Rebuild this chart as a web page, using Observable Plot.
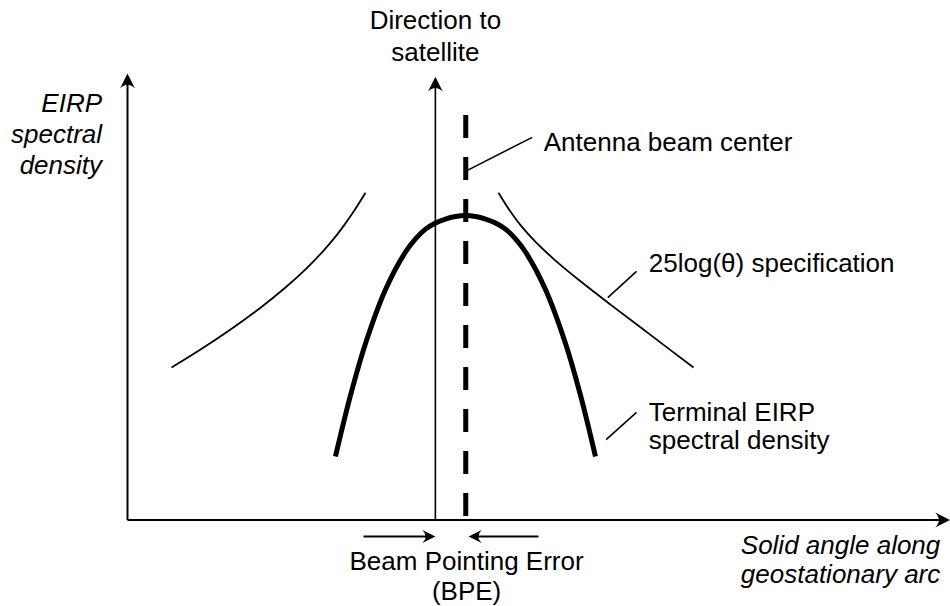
<!DOCTYPE html>
<html>
<head>
<meta charset="utf-8">
<script src="https://cdn.jsdelivr.net/npm/d3@7"></script>
<script src="https://cdn.jsdelivr.net/npm/@observablehq/plot@0.6"></script>
<style>
  html, body { margin: 0; padding: 0; background: #fff; }
  #chart svg { display: block; }
</style>
</head>
<body>
<div id="chart"></div>
<script>
// Abstract units: x = solid angle along the arc (0..100), y = EIRP spectral density (0..100)

// Terminal EIRP spectral density (thick curve)
const terminalX = [25.33, 27.16, 28.99, 31.43, 33.86, 35.08, 36.30, 37.52, 38.73, 39.95, 41.17, 42.39, 43.61, 44.82, 46.04, 47.26, 48.48, 50.91, 53.35, 55.18, 57.00];
const terminalY = [14.22, 27.89, 39.53, 51.62, 60.02, 62.96, 65.15, 66.52, 67.41, 67.97, 68.2, 67.97, 67.41, 66.52, 65.15, 62.96, 60.02, 51.62, 39.53, 27.89, 14.22];

// 25log(theta) specification mask, left and right branches
const specLeftX = [5.36, 8.89, 12.55, 16.2, 19.24, 21.68, 23.75, 25.58, 27.28, 28.99];
const specLeftY = [34.15, 38.19, 42.67, 47.55, 52.07, 56.13, 60.07, 64.03, 68.35, 73.3];
const specRightX = [45.19, 46.41, 47.87, 49.7, 52.13, 55.18, 58.83, 63.7, 68.94];
const specRightY = [73.3, 69.72, 66.05, 62.31, 58.1, 53.46, 48.24, 41.46, 34.15];

// Directions
const satelliteDirection = 37.5;   // direction to satellite
const beamCenter = 41.2;           // antenna beam center
const beamCenterTop = 90.6;
const satelliteTop = 99.3;
const axisXEnd = 100.2;
const axisYEnd = 100;
const bpeLevel = -3.7;
const bpeLeftStart = 28.75;
const bpeRightStart = 50.06;

// Leader lines [x1, y1, x2, y2]
const leaders = [
  [41.4, 78.3, 49.3, 85.7],
  [58.5, 49.8, 62.0, 55.7],
  [58.3, 18.0, 62.0, 24.1]
];

// Labels
const labelText = ["Direction to\nsatellite", "Antenna beam center", "25log(θ) specification", "Terminal EIRP\nspectral density", "Beam Pointing Error\n(BPE)", "Solid angle along\ngeostationary arc", "EIRP\nspectral\ndensity"];
const labelX = [37.5, 50.7, 63.5, 63.5, 41.3, 99.0, -3.1];
const labelY = [102.9, 82.6, 55.5, 15.9, -18.0, -14.2, 77.6];

const toPts = (xs, ys) => xs.map((x, i) => ({x, y: ys[i]}));
const terminal = toPts(terminalX, terminalY);
const specLeft = toPts(specLeftX, specLeftY);
const specRight = toPts(specRightX, specRightY);
const labels = labelText.map((text, i) => ({text, x: labelX[i], y: labelY[i]}));

// Filled "stealth" arrowhead symbol; tip at the origin, pointing along (dx, dy) in screen space
function arrowSymbol(dx, dy) {
  return {
    draw(context, size) {
      const L = Math.sqrt(size / Math.PI);
      const W = L * 0.5;
      const ux = dx, uy = dy;
      const px = -uy, py = ux;
      const P = (a, b) => [-ux * b + px * a, -uy * b + py * a];
      const t = P(0, 0), l = P(-W, L), c = P(0, L * 0.5), r = P(W, L);
      context.moveTo(t[0], t[1]);
      context.lineTo(l[0], l[1]);
      context.quadraticCurveTo(c[0], c[1], r[0], r[1]);
      context.closePath();
    }
  };
}
const up = arrowSymbol(0, -1), right = arrowSymbol(1, 0), left = arrowSymbol(-1, 0);

const font = "'Liberation Sans', Arial, Helvetica, sans-serif";

const plot = Plot.plot({
  width: 950,
  height: 606,
  marginLeft: 127,
  marginRight: 2,
  marginTop: 73,
  marginBottom: 86.5,
  x: {domain: [0, 100], axis: null},
  y: {domain: [0, 100], axis: null},
  style: {fontFamily: font, fontSize: "26px", color: "black", background: "white", overflow: "visible"},
  marks: [
    // axes
    Plot.line([{x: 0, y: 0}, {x: axisXEnd - 0.8, y: 0}], {x: "x", y: "y", stroke: "black", strokeWidth: 2, strokeLinecap: "butt"}),
    Plot.line([{x: 0, y: 0}, {x: 0, y: axisYEnd - 1.5}], {x: "x", y: "y", stroke: "black", strokeWidth: 2, strokeLinecap: "butt"}),
    Plot.dot([{x: axisXEnd, y: 0}], {x: "x", y: "y", symbol: right, r: 15, fill: "black", stroke: "none"}),
    Plot.dot([{x: 0, y: axisYEnd}], {x: "x", y: "y", symbol: up, r: 15, fill: "black", stroke: "none"}),
    // direction to satellite
    Plot.line([{x: satelliteDirection, y: 0}, {x: satelliteDirection, y: satelliteTop - 1.5}], {x: "x", y: "y", stroke: "black", strokeWidth: 1.6, strokeLinecap: "butt"}),
    Plot.dot([{x: satelliteDirection, y: satelliteTop}], {x: "x", y: "y", symbol: up, r: 15, fill: "black", stroke: "none"}),
    // antenna beam center (dashed)
    Plot.ruleX([beamCenter], {y1: beamCenterTop, y2: 0, stroke: "black", strokeWidth: 5, strokeDasharray: "23,19"}),
    // spec curves
    Plot.line(specLeft, {x: "x", y: "y", stroke: "black", strokeWidth: 1.8, curve: "catmull-rom", strokeLinecap: "butt"}),
    Plot.line(specRight, {x: "x", y: "y", stroke: "black", strokeWidth: 1.8, curve: "catmull-rom", strokeLinecap: "butt"}),
    // terminal EIRP curve
    Plot.line(terminal, {x: "x", y: "y", stroke: "black", strokeWidth: 5, curve: "catmull-rom", strokeLinecap: "butt"}),
    // leaders
    Plot.link(leaders, {x1: d => d[0], y1: d => d[1], x2: d => d[2], y2: d => d[3], stroke: "black", strokeWidth: 1.6}),
    // BPE arrows
    Plot.line([{x: bpeLeftStart, y: bpeLevel}, {x: satelliteDirection - 0.7, y: bpeLevel}], {x: "x", y: "y", stroke: "black", strokeWidth: 2, strokeLinecap: "butt"}),
    Plot.line([{x: bpeRightStart, y: bpeLevel}, {x: beamCenter + 1.0, y: bpeLevel}], {x: "x", y: "y", stroke: "black", strokeWidth: 2, strokeLinecap: "butt"}),
    Plot.dot([{x: satelliteDirection, y: bpeLevel}], {x: "x", y: "y", symbol: right, r: 13, fill: "black", stroke: "none"}),
    Plot.dot([{x: beamCenter + 0.35, y: bpeLevel}], {x: "x", y: "y", symbol: left, r: 13, fill: "black", stroke: "none"}),
    // labels
    Plot.text([labels[0]], {x: "x", y: "y", text: "text", textAnchor: "middle", lineAnchor: "bottom", lineHeight: 1.2, fill: "black", fontSize: 26}),
    Plot.text([labels[1], labels[2]], {x: "x", y: "y", text: "text", textAnchor: "start", lineAnchor: "bottom", fill: "black", fontSize: 26}),
    Plot.text([labels[3]], {x: "x", y: "y", text: "text", textAnchor: "start", lineAnchor: "bottom", lineHeight: 1.08, fill: "black", fontSize: 26}),
    Plot.text([labels[4]], {x: "x", y: "y", text: "text", textAnchor: "middle", lineAnchor: "bottom", lineHeight: 1.18, fill: "black", fontSize: 26}),
    Plot.text([labels[5]], {x: "x", y: "y", text: "text", textAnchor: "end", lineAnchor: "bottom", lineHeight: 1.15, fill: "black", fontSize: 26, fontStyle: "italic"}),
    Plot.text([labels[6]], {x: "x", y: "y", text: "text", textAnchor: "end", lineAnchor: "bottom", lineHeight: 1.19, fill: "black", fontSize: 26, fontStyle: "italic"})
  ]
});
document.getElementById("chart").appendChild(plot);
</script>
</body>
</html>
